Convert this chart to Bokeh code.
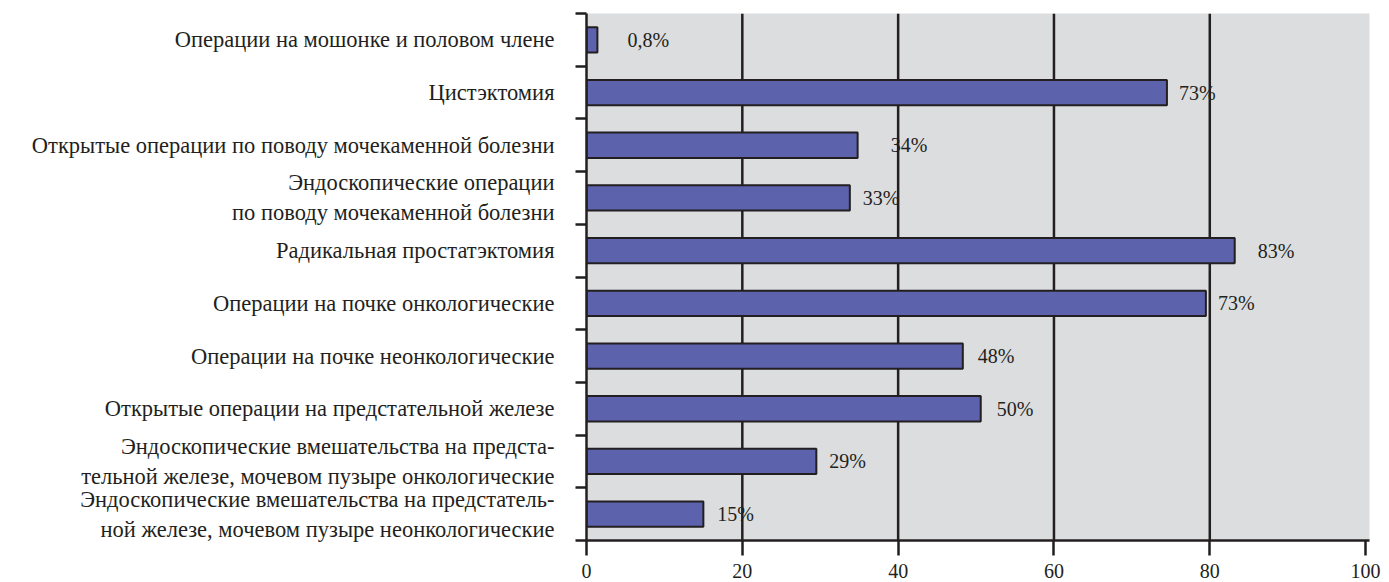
from bokeh.plotting import figure
from bokeh.models import Range1d, FixedTicker, ColumnDataSource
from bokeh.core.properties import value
from bokeh.embed import file_html
from bokeh.resources import INLINE

categories = [
    "Операции на мошонке и половом члене",
    "Цистэктомия",
    "Открытые операции по поводу мочекаменной болезни",
    "Эндоскопические операции\nпо поводу мочекаменной болезни",
    "Радикальная простатэктомия",
    "Операции на почке онкологические",
    "Операции на почке неонкологические",
    "Открытые операции на предстательной железе",
    "Эндоскопические вмешательства на предста-\nтельной железе, мочевом пузыре онкологические",
    "Эндоскопические вмешательства на предстатель-\nной железе, мочевом пузыре неонкологические",
]
bar_values = [1.4, 74.5, 34.8, 33.8, 83.2, 79.5, 48.3, 50.6, 29.5, 15.0]
value_labels = ["0,8%", "73%", "34%", "33%", "83%", "73%", "48%", "50%", "29%", "15%"]
x_ticks = [0, 20, 40, 60, 80, 100]

# styling: pixel offsets of value labels from bar ends
label_px_offsets = [30, 12, 33, 13, 23, 12, 15, 16, 13, 14]

FONT = "Liberation Serif"
INK = "#231f20"

n = len(categories)
centers = [i + 0.5 for i in range(n)]
bounds = list(range(n + 1))

p = figure(width=1389, height=582, output_backend="svg", toolbar_location=None,
           x_range=Range1d(0, 100.5), y_range=Range1d(n, 0),
           min_border_left=586, min_border_right=20, min_border_top=13, min_border_bottom=42)
p.background_fill_color = "#dcdddf"
p.border_fill_color = "white"
p.outline_line_color = None
p.xgrid.visible = False
p.ygrid.visible = False

src = ColumnDataSource(dict(y=centers, v=bar_values, lab=value_labels, off=label_px_offsets))

# value labels (under grid lines)
p.text(x="v", y="y", text="lab", x_offset="off", source=src, text_font=value(FONT),
       text_font_size="20px", text_color=INK, text_align="left", text_baseline="middle")

# vertical grid lines
grid_x = [t for t in x_ticks if 0 < t < 100]
p.segment(x0=grid_x, x1=grid_x, y0=[0] * len(grid_x), y1=[n] * len(grid_x),
          line_color=INK, line_width=2.5)

# bars
p.hbar(y="y", right="v", left=0, height=0.48, source=src,
       fill_color="#5c62ab", line_color=INK, line_width=2)

# x axis
xa = p.xaxis[0]
xa.ticker = FixedTicker(ticks=x_ticks, minor_ticks=[])
xa.axis_line_color = INK
xa.axis_line_width = 2.5
xa.major_tick_line_color = INK
xa.major_tick_line_width = 2.5
xa.major_tick_out = 15
xa.major_tick_in = 0
xa.minor_tick_line_color = None
xa.major_label_text_font = FONT
xa.major_label_text_font_size = "20px"
xa.major_label_text_color = INK
xa.major_label_standoff = 8

# y axis
ya = p.yaxis[0]
ya.ticker = FixedTicker(ticks=centers, minor_ticks=bounds)
ya.major_label_overrides = {c: lab for c, lab in zip(centers, categories)}
ya.axis_line_color = INK
ya.axis_line_width = 2.5
ya.major_tick_line_color = None
ya.major_tick_out = 0
ya.major_tick_in = 0
ya.minor_tick_line_color = INK
ya.minor_tick_line_width = 2.5
ya.minor_tick_out = 11
ya.minor_tick_in = 0
ya.major_label_text_font = FONT
ya.major_label_text_font_size = "22.5px"
ya.major_label_text_color = INK
ya.major_label_standoff = 21

open("out.html", "w").write(file_html(p, INLINE))
